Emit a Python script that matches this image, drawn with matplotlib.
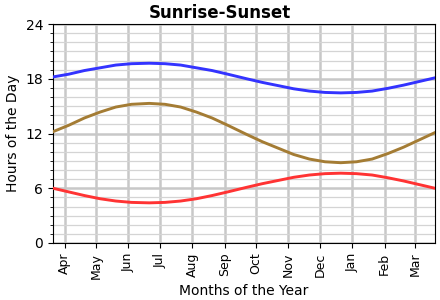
import datetime as dt
import matplotlib
matplotlib.use('Agg')
import matplotlib.pyplot as plt
import matplotlib.dates as mdates
from matplotlib.ticker import MultipleLocator

# sample dates (roughly every 15 days across one year)
dates = ['2023-03-21', '2023-04-05', '2023-04-20', '2023-05-05', '2023-05-20',
         '2023-06-04', '2023-06-21', '2023-07-06', '2023-07-21', '2023-08-05',
         '2023-08-20', '2023-09-04', '2023-09-22', '2023-10-07', '2023-10-22',
         '2023-11-06', '2023-11-21', '2023-12-06', '2023-12-21', '2024-01-05',
         '2024-01-20', '2024-02-04', '2024-02-19', '2024-03-05', '2024-03-20']

sunset = [18.2, 18.5, 18.9, 19.2, 19.5, 19.65, 19.7, 19.65, 19.5, 19.2,
          18.9, 18.5, 18.0, 17.6, 17.25, 16.9, 16.65, 16.5, 16.45, 16.5,
          16.65, 16.95, 17.3, 17.7, 18.1]
sunrise = [6.0, 5.6, 5.2, 4.85, 4.6, 4.45, 4.4, 4.45, 4.6, 4.85,
           5.2, 5.6, 6.1, 6.5, 6.85, 7.2, 7.45, 7.6, 7.65, 7.6,
           7.45, 7.15, 6.8, 6.4, 6.0]
daylength = [12.2, 12.9, 13.7, 14.35, 14.9, 15.2, 15.3, 15.2, 14.9, 14.35,
             13.7, 12.9, 11.9, 11.1, 10.4, 9.7, 9.2, 8.9, 8.8, 8.9,
             9.2, 9.8, 10.5, 11.3, 12.1]

x = [dt.datetime.strptime(d, '%Y-%m-%d') for d in dates]

fig = plt.figure(figsize=(4.4, 3.0), dpi=100)
ax = fig.add_axes([0.1205, 0.19, 0.868, 0.73])

ax.plot(x, sunset, color='#3333ff', lw=2.1, zorder=3)
ax.plot(x, daylength, color='#a47c34', lw=2.1, zorder=3)
ax.plot(x, sunrise, color='#ff3333', lw=2.1, zorder=3)

ax.set_xlim(x[0], x[-1])
ax.set_ylim(0, 24)
ax.yaxis.set_major_locator(MultipleLocator(6))
ax.yaxis.set_minor_locator(MultipleLocator(1))
ax.xaxis.set_major_locator(mdates.MonthLocator())
ax.xaxis.set_major_formatter(mdates.DateFormatter('%b'))
ax.tick_params(axis='x', labelrotation=90, labelsize=9)
ax.tick_params(axis='y', labelsize=10)

ax.grid(which='major', color='#c8c8c8', lw=1.8, zorder=0)
ax.grid(which='minor', axis='y', color='#d4d4d4', lw=0.9, zorder=0)
ax.set_axisbelow(True)

# title is centred on the figure, not the axes
fig.suptitle('Sunrise-Sunset', fontsize=12, fontweight='bold', x=0.5, y=0.985)
ax.set_xlabel('Months of the Year', fontsize=10)
ax.set_ylabel('Hours of the Day', fontsize=10)

plt.savefig('out.png', dpi=100)
plt.close()
